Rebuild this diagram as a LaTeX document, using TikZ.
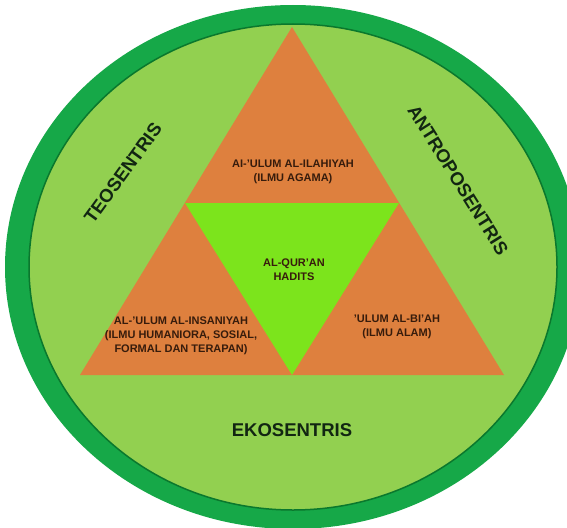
\documentclass[tikz,border=0pt]{standalone}
\usepackage{fontspec}
\setmainfont{Liberation Sans}
\definecolor{ringgreen}{RGB}{22,168,72}
\definecolor{ringedge}{RGB}{10,120,45}
\definecolor{fieldgreen}{RGB}{146,208,80}
\definecolor{wedgeorange}{RGB}{222,128,62}
\definecolor{coregreen}{RGB}{124,228,28}
\definecolor{darkbrown}{RGB}{55,28,12}
\definecolor{darkleaf}{RGB}{18,38,18}
\begin{document}
\begin{tikzpicture}[x=1pt, y=-1pt,
  subject/.style={align=center, text=darkbrown, font=\bfseries\fontsize{11}{14}\selectfont},
  view/.style={text=darkleaf, font=\bfseries\fontsize{18.5}{22}\selectfont}]
  \useasboundingbox (0,0) rectangle (567,527);
  \clip (0,0) rectangle (567,527);

  \fill[ringgreen] (293,267) ellipse [x radius=288, y radius=262];
  \filldraw[fill=fieldgreen, draw=ringedge, line width=1.5pt] (293,267) ellipse [x radius=264, y radius=243];

  \coordinate (apex) at (292,27);
  \coordinate (baseleft) at (80,375);
  \coordinate (baseright) at (504,375);
  \coordinate (midleft) at (185,203);
  \coordinate (midright) at (399,203);
  \coordinate (tip) at (292,375);

  \fill[wedgeorange] (apex) -- (baseright) -- (baseleft) -- cycle;
  \fill[coregreen] (midleft) -- (midright) -- (tip) -- cycle;

  \node (ilahiyah) [subject] at (293,172) {AI-'ULUM AL-ILAHIYAH\\(ILMU AGAMA)};
  \node (quran) [subject] at (294,270) {AL-QUR'AN\\HADITS};
  \node (insaniyah) [subject] at (181,336) {AL-'ULUM AL-INSANIYAH\\(ILMU HUMANIORA, SOSIAL,\\FORMAL DAN TERAPAN)};
  \node (biah) [subject] at (397,327) {'ULUM AL-BI'AH\\(ILMU ALAM)};

  \node (teo) [view, rotate=54] at (123,173) {TEOSENTRIS};
  \node (antropo) [view, rotate=-58] at (458,180) {ANTROPOSENTRIS};
  \node (eko) [view] at (292,430) {EKOSENTRIS};
\end{tikzpicture}
\end{document}
